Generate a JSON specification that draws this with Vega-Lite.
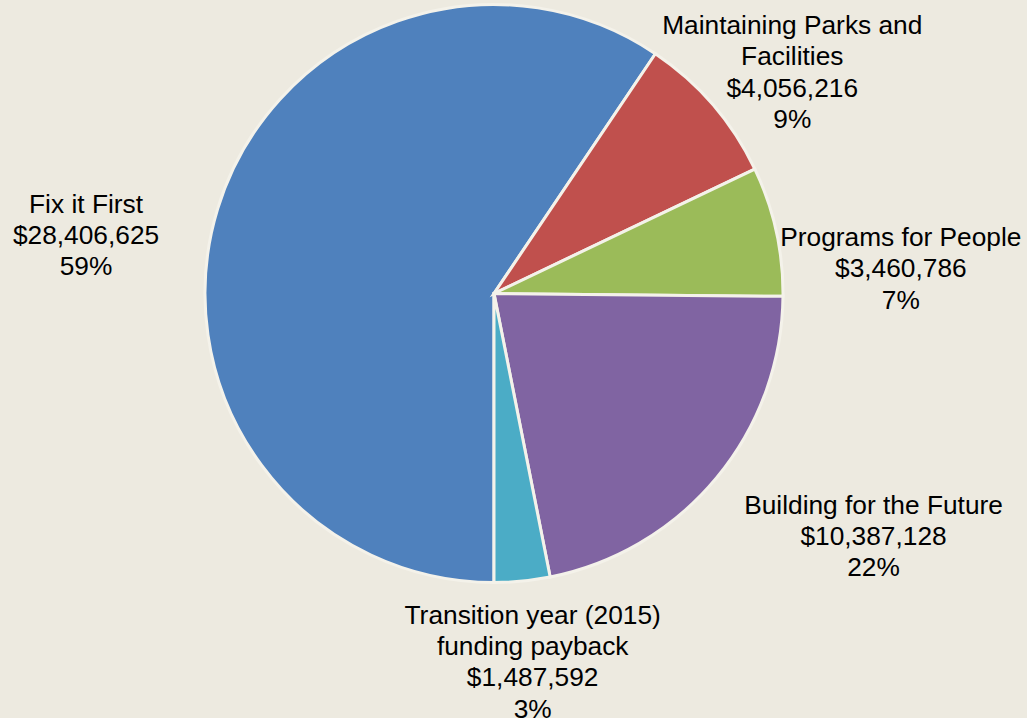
{
  "$schema": "https://vega.github.io/schema/vega-lite/v6.json",
  "width": 988,
  "height": 587,
  "autosize": "none",
  "padding": {"left": 0, "top": 0, "right": 39, "bottom": 131},
  "background": "#EDEAE0",
  "config": {"view": {"stroke": null}},
  "data": {
    "values": [
      {"category": "Fix it First", "rank": 1, "amount": 28406625, "label": ["Fix it First", "$28,406,625", "59%"]},
      {"category": "Maintaining Parks and Facilities", "rank": 2, "amount": 4056216, "label": ["Maintaining Parks and", "Facilities", "$4,056,216", "9%"]},
      {"category": "Programs for People", "rank": 3, "amount": 3460786, "label": ["Programs for People", "$3,460,786", "7%"]},
      {"category": "Building for the Future", "rank": 4, "amount": 10387128, "label": ["Building for the Future", "$10,387,128", "22%"]},
      {"category": "Transition year (2015) funding payback", "rank": 5, "amount": 1487592, "label": ["Transition year (2015)", "funding payback", "$1,487,592", "3%"]}
    ]
  },
  "encoding": {
    "theta": {"field": "amount", "type": "quantitative", "stack": true, "scale": {"range": [3.14159265, 9.42477796]}},
    "order": {"field": "rank", "type": "quantitative"}
  },
  "layer": [
    {
      "mark": {"type": "arc", "outerRadius": 289, "stroke": "#F4F2EA", "strokeWidth": 3},
      "encoding": {
        "color": {
          "field": "category",
          "type": "nominal",
          "scale": {
            "domain": ["Fix it First", "Maintaining Parks and Facilities", "Programs for People", "Building for the Future", "Transition year (2015) funding payback"],
            "range": ["#4F81BD", "#C0504D", "#9BBB59", "#8064A2", "#4BACC6"]
          },
          "legend": null
        }
      }
    },
    {
      "mark": {
        "type": "text",
        "radius": 345,
        "font": "Liberation Sans",
        "fontSize": 26.3,
        "lineHeight": 31.3,
        "color": "#000000",
        "align": "center",
        "baseline": "middle",
        "dx": {"expr": "datum.rank == 1 ? -78 : datum.rank == 2 ? 37 : datum.rank == 3 ? 70 : datum.rank == 4 ? 114 : 5"},
        "dy": {"expr": "datum.rank == 1 ? 12 : datum.rank == 2 ? -42 : datum.rank == 3 ? 19 : datum.rank == 4 ? -8 : -21"}
      },
      "encoding": {
        "text": {"field": "label", "type": "nominal"}
      }
    }
  ]
}
